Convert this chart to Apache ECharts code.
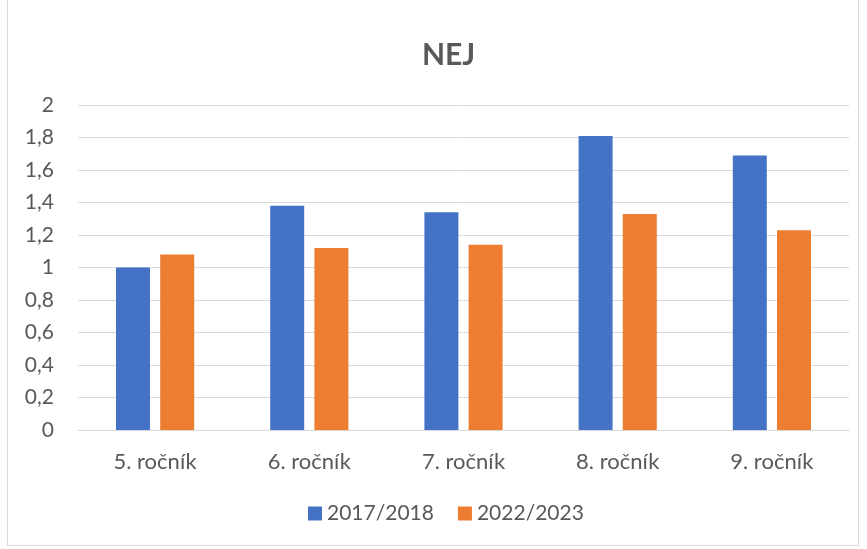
<!DOCTYPE html>
<html>
<head>
<meta charset="utf-8">
<script src="https://cdn.jsdelivr.net/npm/echarts@6/dist/echarts.min.js"></script>
<style>
html, body { margin: 0; padding: 0; background: #fff; }
#main { position: absolute; left: 7px; top: 0; width: 852px; height: 546px; border: 1px solid #d9d9d9; border-top: none; box-sizing: border-box; }
</style>
</head>
<body>
<div id="main"></div>
<script>
var categories = ['5. ročník', '6. ročník', '7. ročník', '8. ročník', '9. ročník'];
var seriesNames = ['2017/2018', '2022/2023'];
var values2017 = [1.00, 1.38, 1.34, 1.81, 1.69];
var values2022 = [1.08, 1.12, 1.14, 1.33, 1.23];

var chart = echarts.init(document.getElementById('main'));
var textColor = '#595959';
var font = 'Lato, "Open Sans", sans-serif';

chart.setOption({
    animation: false,
    color: ['#4472C4', '#ED7D31'],
    title: {
        text: 'NEJ',
        left: 409,
        top: 35,
        textStyle: { color: textColor, fontSize: 30, fontWeight: 'bold', fontFamily: font }
    },
    legend: {
        data: seriesNames,
        bottom: 16,
        left: 295,
        itemWidth: 14,
        itemHeight: 14,
        itemGap: 24,
        icon: 'rect',
        textStyle: { color: textColor, fontSize: 21, fontFamily: font }
    },
    grid: {
        left: 70,
        right: 9,
        top: 105,
        bottom: 115,
        containLabel: false
    },
    xAxis: {
        type: 'category',
        data: categories,
        axisLine: { lineStyle: { color: '#d9d9d9', width: 1 } },
        axisTick: { show: false },
        axisLabel: { color: textColor, fontSize: 22, margin: 21, fontFamily: font }
    },
    yAxis: {
        type: 'value',
        min: 0,
        max: 2,
        interval: 0.2,
        axisLine: { show: false },
        axisTick: { show: false },
        splitLine: { lineStyle: { color: '#d9d9d9', width: 1 } },
        axisLabel: {
            color: textColor,
            fontSize: 21,
            margin: 24,
            fontFamily: font,
            formatter: function (v) {
                return String(Math.round(v * 10) / 10).replace('.', ',');
            }
        }
    },
    series: [{
        name: seriesNames[0],
        type: 'bar',
        barWidth: 34,
        barGap: '30%',
        data: values2017
    }, {
        name: seriesNames[1],
        type: 'bar',
        barWidth: 34,
        barGap: '30%',
        data: values2022
    }]
});
</script>
</body>
</html>
